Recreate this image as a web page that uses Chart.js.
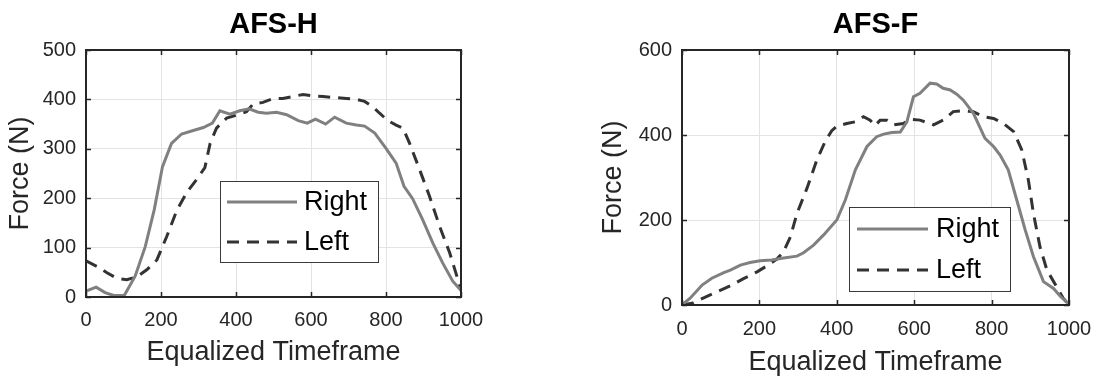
<!DOCTYPE html>
<html>
<head>
<meta charset="utf-8">
<script src="https://cdn.jsdelivr.net/npm/chart.js@4.4.0/dist/chart.umd.min.js"></script>
<style>
  html, body { margin: 0; padding: 0; background: #fff; }
  #wrap { position: relative; width: 1098px; height: 380px; }
  canvas { position: absolute; top: 0; }
</style>
</head>
<body>
<div id="wrap">
  <canvas id="grafH" width="549" height="380" style="left:0px"></canvas>
  <canvas id="grafF" width="549" height="380" style="left:549px"></canvas>
</div>
<script>
// AFS-H
const hRightX = [0, 27, 51, 74, 102, 131, 158, 182, 204, 228, 255, 286, 313, 337, 357, 384, 410, 435, 459, 481, 508, 535, 566, 590, 612, 639, 663, 694, 721, 743, 770, 800, 827, 848, 871, 898, 925, 951, 978, 1000];
const hRightY = [12, 20, 9, 3, 3, 42, 102, 177, 264, 311, 330, 337, 343, 352, 377, 370, 377, 381, 374, 372, 374, 369, 357, 352, 360, 350, 364, 352, 348, 346, 332, 301, 271, 224, 199, 156, 109, 69, 32, 13];
const hLeftX = [0, 29, 56, 82, 109, 136, 162, 189, 215, 242, 269, 295, 317, 331, 348, 375, 401, 428, 446, 472, 499, 525, 552, 579, 605, 632, 659, 694, 721, 743, 765, 783, 805, 827, 845, 863, 890, 916, 943, 970, 1000];
const hLeftY = [73, 62, 49, 38, 35, 41, 55, 75, 122, 175, 212, 238, 262, 311, 342, 362, 368, 375, 391, 394, 402, 402, 406, 410, 407, 406, 404, 402, 400, 396, 385, 372, 357, 348, 342, 311, 257, 204, 143, 89, 15];

// AFS-F
const fRightX = [0, 21, 52, 77, 108, 125, 151, 176, 202, 232, 258, 297, 314, 340, 366, 400, 422, 448, 478, 503, 521, 542, 564, 581, 598, 615, 641, 658, 675, 693, 710, 727, 753, 783, 805, 822, 843, 865, 887, 908, 934, 960, 978, 1000];
const fRightY = [0, 16, 47, 63, 76, 82, 94, 100, 104, 106, 110, 115, 123, 141, 165, 200, 247, 318, 373, 396, 402, 406, 407, 431, 490, 498, 522, 520, 510, 506, 496, 482, 451, 392, 373, 353, 318, 247, 176, 114, 55, 39, 20, 2];
const fLeftX = [0, 26, 56, 90, 125, 159, 194, 219, 245, 262, 280, 297, 323, 348, 370, 387, 400, 426, 447, 469, 486, 499, 512, 529, 546, 572, 589, 615, 650, 675, 701, 727, 753, 779, 805, 831, 857, 878, 895, 908, 925, 943, 968, 985, 1000];
const fLeftY = [0, 4, 17, 31, 45, 62, 78, 92, 108, 125, 160, 215, 275, 340, 385, 410, 421, 427, 431, 443, 435, 422, 435, 435, 424, 427, 437, 435, 424, 435, 455, 457, 455, 443, 439, 427, 408, 365, 294, 216, 137, 82, 43, 16, 0];

const seriesNames = ['Right', 'Left'];
const xTicks = [0, 200, 400, 600, 800, 1000];

const FONT = "'Liberation Sans', Arial, sans-serif";
const INK = '#262626';

function pts(xs, ys) {
  return xs.map((x, i) => ({ x: x, y: ys[i] }));
}

// box around the plot, inward ticks on all sides, legend inside the axes
const matlabBox = {
  id: 'matlabBox',
  afterDraw(chart, args, opts) {
    const { ctx, chartArea: a, scales } = chart;
    ctx.save();
    ctx.strokeStyle = INK;
    ctx.lineWidth = 1.5;
    ctx.beginPath();
    scales.x.ticks.forEach(t => {
      const px = Math.round(scales.x.getPixelForValue(t.value)) + 0.5;
      ctx.moveTo(px, a.bottom); ctx.lineTo(px, a.bottom - 5);
      ctx.moveTo(px, a.top); ctx.lineTo(px, a.top + 5);
    });
    scales.y.ticks.forEach(t => {
      const py = Math.round(scales.y.getPixelForValue(t.value)) + 0.5;
      ctx.moveTo(a.left, py); ctx.lineTo(a.left + 5, py);
      ctx.moveTo(a.right, py); ctx.lineTo(a.right - 5, py);
    });
    ctx.stroke();
    ctx.lineWidth = 2;
    ctx.strokeRect(a.left, a.top, a.right - a.left, a.bottom - a.top);

    // legend
    const lg = opts.legend;
    const bx = a.left + lg.x, by = a.top + lg.y;
    ctx.fillStyle = '#fff';
    ctx.fillRect(bx, by, lg.w, lg.h);
    ctx.strokeStyle = '#3a3a3a';
    ctx.lineWidth = 1;
    ctx.strokeRect(bx + 0.5, by + 0.5, lg.w, lg.h);
    ctx.font = '27px ' + FONT;
    ctx.textBaseline = 'middle';
    ctx.textAlign = 'left';
    chart.data.datasets.forEach((ds, i) => {
      const ry = by + lg.rows[i];
      ctx.strokeStyle = ds.borderColor;
      ctx.lineWidth = ds.borderWidth;
      ctx.setLineDash(ds.borderDash || []);
      ctx.beginPath();
      ctx.moveTo(bx + lg.lineFrom, ry);
      ctx.lineTo(bx + lg.lineTo, ry);
      ctx.stroke();
      ctx.setLineDash([]);
      ctx.fillStyle = '#000';
      ctx.fillText(ds.label, bx + lg.textX, ry + 1);
    });
    ctx.restore();
  }
};

function makeChart(id, title, rX, rY, lX, lY, yMax, yStep, geo) {
  return new Chart(document.getElementById(id), {
    type: 'line',
    data: {
      datasets: [
        { label: seriesNames[0], data: pts(rX, rY), borderColor: '#808080', borderWidth: 3, pointRadius: 0, tension: 0 },
        { label: seriesNames[1], data: pts(lX, lY), borderColor: '#333333', borderWidth: 3, borderDash: [12, 8], pointRadius: 0, tension: 0 }
      ]
    },
    options: {
      responsive: false,
      animation: false,
      layout: { padding: { left: 0, right: geo.padRight, top: 0, bottom: 0 } },
      plugins: {
        legend: { display: false },
        tooltip: { enabled: false },
        title: {
          display: true,
          text: title,
          fullSize: false,
          color: '#000',
          font: { family: FONT, size: 29, weight: 'bold', lineHeight: 1.2 },
          padding: { top: 7.6, bottom: 7.6 }
        },
        matlabBox: { legend: geo.legend }
      },
      scales: {
        x: {
          type: 'linear',
          min: 0, max: 1000,
          afterBuildTicks: s => { s.ticks = xTicks.map(v => ({ value: v })); },
          afterFit: s => { s.height = geo.xHeight; s.paddingLeft = 0; s.paddingRight = 0; },
          grid: { color: '#e3e3e3', drawTicks: false },
          border: { display: false },
          ticks: { color: INK, padding: geo.xTickPad, font: { family: FONT, size: 20, lineHeight: 1.2 }, maxRotation: 0, callback: v => String(v) },
          title: { display: true, text: 'Equalized Timeframe', color: INK, font: { family: FONT, size: 27, lineHeight: 1.2 }, padding: { top: 0, bottom: geo.xTitlePad } }
        },
        y: {
          min: 0, max: yMax,
          afterFit: s => { s.width = geo.yWidth; s.paddingTop = 0; s.paddingBottom = 0; },
          grid: { color: '#e3e3e3', drawTicks: false },
          border: { display: false },
          ticks: { stepSize: yStep, color: INK, padding: 10, font: { family: FONT, size: 20, lineHeight: 1.2 }, callback: v => String(v) },
          title: { display: true, text: 'Force (N)', color: INK, font: { family: FONT, size: 27, lineHeight: 1.2 }, padding: { top: geo.yTitlePad, bottom: 0 } }
        }
      }
    },
    plugins: [matlabBox]
  });
}

makeChart('grafH', 'AFS-H', hRightX, hRightY, hLeftX, hLeftY, 500, 100, {
  padRight: 88, yWidth: 86, xHeight: 83, xTickPad: 11, xTitlePad: 10.8, yTitlePad: 4.3,
  legend: { x: 134, y: 131, w: 158, h: 81, rows: [21, 61], lineFrom: 7, lineTo: 77, textX: 84 }
});

makeChart('grafF', 'AFS-F', fRightX, fRightY, fLeftX, fLeftY, 600, 200, {
  padRight: 29, yWidth: 133, xHeight: 75, xTickPad: 12, xTitlePad: 0.8, yTitlePad: 48.8,
  legend: { x: 167, y: 157, w: 161, h: 84, rows: [22, 63], lineFrom: 8, lineTo: 79, textX: 87 }
});
</script>
</body>
</html>
